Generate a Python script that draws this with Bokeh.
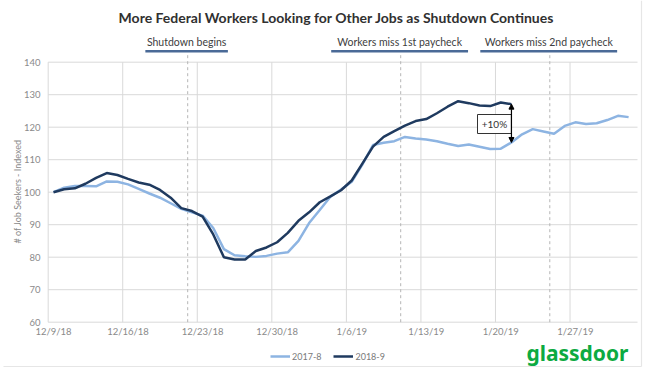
from math import pi
from bokeh.plotting import figure
from bokeh.models import Legend, LegendItem, Arrow, NormalHead, Range1d
from bokeh.embed import file_html
from bokeh.resources import INLINE

# ---------------- data ----------------
# one value per day, index 0 = 12/9/18
series_2017 = [100.0, 101.4, 101.9, 101.9, 101.8, 103.3, 103.2, 102.4, 101.0, 99.6,
               98.3, 96.6, 94.9, 93.8, 92.8, 89.0, 82.5, 80.6, 80.3, 80.1,
               80.4, 81.1, 81.5, 85.0, 90.5, 94.5, 98.6, 100.8, 103.2, 108.5,
               114.5, 115.2, 115.7, 117.0, 116.5, 116.2, 115.7, 114.9, 114.2, 114.7,
               114.0, 113.3, 113.4, 115.3, 117.8, 119.4, 118.7, 118.0, 120.4, 121.5,
               121.0, 121.2, 122.2, 123.5, 123.1]
series_2018 = [100.0, 100.9, 101.2, 102.6, 104.4, 105.9, 105.3, 104.1, 103.0, 102.3,
               100.7, 98.3, 95.1, 94.2, 92.5, 87.0, 80.0, 79.3, 79.3, 81.9,
               83.0, 84.6, 87.5, 91.2, 93.8, 96.9, 98.7, 100.6, 103.6, 108.8,
               114.0, 117.0, 118.8, 120.5, 121.9, 122.5, 124.3, 126.3, 128.0, 127.4,
               126.7, 126.5, 127.6, 127.1]
series_names = ["2017-8", "2018-9"]
tick_days = [0, 7, 14, 21, 28, 35, 42, 49]
tick_labels = ["12/9/18", "12/16/18", "12/23/18", "12/30/18", "1/6/19", "1/13/19",
               "1/20/19", "1/27/19"]
y_ticks = [60, 70, 80, 90, 100, 110, 120, 130, 140]
y_tick_labels = [str(v) for v in y_ticks]
event_days = [13, 33, 47]
event_labels = ["Shutdown begins", "Workers miss 1st paycheck", "Workers miss 2nd paycheck"]
title_text = "More Federal Workers Looking for Other Jobs as Shutdown Continues"
y_title = "# of Job Seekers - Indexed"
logo_text = "glassdoor"

days_2017 = list(range(len(series_2017)))
days_2018 = list(range(len(series_2018)))

# ---------------- layout / style ----------------
W, H = 650, 378
X0_PX, DAY_PX = 53.0, 10.65          # pixel of day 0, pixels per day
Y140_PX, UNIT_PX = 61.7, 3.25        # pixel of value 140, pixels per index unit


def px_x(px):
    return (px - X0_PX) / DAY_PX


def px_y(py):
    return 140 - (py - Y140_PX) / UNIT_PX


FONT = "Lato"
LIGHT = "#8db4e2"
DARK = "#1f3a5f"
GRID = "#d9d9d9"
TICK_C = "#8a8a8a"

p = figure(width=W, height=H, output_backend="svg", toolbar_location=None,
           x_range=Range1d(px_x(0), px_x(W)), y_range=Range1d(px_y(H), px_y(0)),
           min_border=0, min_border_left=0, min_border_right=0,
           min_border_top=0, min_border_bottom=0)
p.outline_line_color = None
p.axis.visible = False
p.grid.visible = False
p.background_fill_color = "white"
p.border_fill_color = "white"

x_left, x_right = -0.5, px_x(637)

# outer light frame
p.segment(x0=[px_x(3), px_x(641)], x1=[px_x(641), px_x(641)],
          y0=[px_y(366), px_y(366)], y1=[px_y(366), px_y(0)],
          line_color="#e6e6e6", line_width=1.2)

# horizontal grid lines
p.segment(x0=[x_left] * len(y_ticks), x1=[x_right] * len(y_ticks),
          y0=y_ticks, y1=y_ticks, line_color=GRID, line_width=1)
# vertical weekly grid lines (category boundaries)
p.segment(x0=[d - 0.5 for d in tick_days], x1=[d - 0.5 for d in tick_days],
          y0=[y_ticks[0]] * len(tick_days), y1=[y_ticks[-1]] * len(tick_days),
          line_color=GRID, line_width=1)

# tick labels
p.text(x=[px_x(40)] * len(y_ticks), y=y_ticks, text=y_tick_labels,
       text_align="right", text_baseline="middle", text_font={"value": FONT},
       text_font_size="9.5px", text_color=TICK_C)
p.text(x=tick_days, y=[px_y(331)] * len(tick_days), text=tick_labels,
       text_align="center", text_baseline="middle", text_font={"value": FONT},
       text_font_size="9.5px", text_color=TICK_C)
p.text(x=[px_x(17)], y=[px_y(191)], text=[y_title], angle=pi / 2,
       text_align="center", text_baseline="middle", text_font={"value": FONT},
       text_font_size="9px", text_color=TICK_C)

# event dashed lines, labels, underlines
for d, lab in zip(event_days, event_labels):
    xc = d - 0.4
    p.segment(x0=[xc], x1=[xc], y0=[60], y1=[px_y(54)], line_color="#b5b5b5",
              line_width=1, line_dash="3 3")
    half = 0.255 * len(lab) + 0.05
    p.segment(x0=[xc - half - 0.1], x1=[xc + half - 0.1], y0=[px_y(50.7)],
              y1=[px_y(50.7)], line_color="#4a6a97", line_width=2.5)
    p.text(x=[xc - 0.1], y=[px_y(41)], text=[lab], text_align="center",
           text_baseline="middle", text_font={"value": FONT},
           text_font_size="10.5px", text_color="#404040")

# series
r1 = p.line(days_2017, series_2017, line_color=LIGHT, line_width=2.5)
r2 = p.line(days_2018, series_2018, line_color=DARK, line_width=2.5)

# +10% annotation
last = len(series_2018) - 1
pct = round((series_2018[last] / series_2017[last] - 1) * 100)
p.add_layout(Arrow(x_start=last, y_start=series_2017[last], x_end=last,
                   y_end=series_2018[last], line_color="black", line_width=1.2,
                   start=NormalHead(size=5, fill_color="black", line_color="black"),
                   end=NormalHead(size=5, fill_color="black", line_color="black")))
box_l = px_x(477)
p.quad(left=[box_l], right=[last], bottom=[px_y(133)], top=[px_y(114)],
       fill_color="white", line_color="#333333", line_width=1)
p.text(x=[(box_l + last) / 2], y=[px_y(123.5)], text=["+%d%%" % pct],
       text_align="center", text_baseline="middle", text_font={"value": FONT},
       text_font_size="10px", text_color="#333333")

# title
p.text(x=[px_x(336)], y=[px_y(17)], text=[title_text], text_align="center",
       text_baseline="middle", text_font={"value": FONT}, text_font_size="14px",
       text_font_style="bold", text_color="#303030")

# legend
legend = Legend(items=[LegendItem(label=series_names[0], renderers=[r1]),
                       LegendItem(label=series_names[1], renderers=[r2])],
                orientation="horizontal", location=(270, 12), padding=0, margin=0,
                spacing=12, glyph_width=20, label_standoff=2,
                label_text_font=FONT, label_text_font_size="9px",
                label_text_color="#7a7a7a", background_fill_alpha=0,
                border_line_color=None)
p.add_layout(legend)

# logo
p.text(x=[px_x(628)], y=[px_y(352)], text=[logo_text], text_align="right",
       text_baseline="middle", text_font={"value": "Noto Sans"},
       text_font_size="21px", text_font_style="bold", text_color="#0caa41")

open("out.html", "w").write(file_html(p, INLINE))
